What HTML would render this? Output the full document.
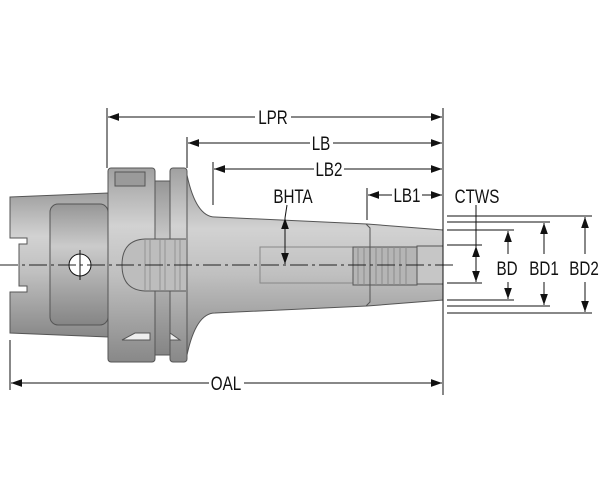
<!DOCTYPE html>
<html><head><style>html,body{margin:0;padding:0;background:#fff}svg{display:block}
text{font-family:"Liberation Sans",sans-serif;font-size:19px;fill:#111;text-anchor:middle}</style></head>
<body>
<svg width="600" height="501" viewBox="0 0 600 501" xmlns="http://www.w3.org/2000/svg">
<defs>
<linearGradient id="g" x1="0" y1="0" x2="0" y2="1">
<stop offset="0" stop-color="#a0a0a0"/><stop offset="0.3" stop-color="#d2d2d2"/><stop offset="0.55" stop-color="#c0c0c0"/><stop offset="1" stop-color="#888"/></linearGradient>
<linearGradient id="g2" x1="0" y1="0" x2="0" y2="1">
<stop offset="0" stop-color="#969696"/><stop offset="0.35" stop-color="#cbcbcb"/><stop offset="1" stop-color="#858585"/></linearGradient>
<marker id="a" viewBox="0 0 10 10" refX="10" refY="5" markerWidth="11" markerHeight="11" orient="auto-start-reverse"><path d="M0,1.5L10,5L0,8.5z" fill="#111"/></marker>
</defs>
<g stroke="#555" stroke-width="1">
<path d="M10,197 L108,193 L108,337 L10,333 L10,292 L27,292 L27,286 L19,286 L19,244 L27,244 L27,238 L10,238 Z" fill="url(#g)"/>
<rect x="50" y="204" width="58" height="121" rx="8" fill="url(#g2)"/>
<path d="M187,175 Q196,217 215,217 L367,224 L443,230 L443,300 L367,306 L215,313 Q196,313 187,355 Z" fill="url(#g)"/>
<rect x="260" y="247" width="93" height="36" fill="none" stroke="#888"/>
<rect x="108" y="168" width="47" height="194" rx="3" fill="url(#g)"/>
<rect x="155" y="181" width="15" height="174" fill="url(#g2)"/>
<rect x="170" y="168" width="17" height="194" rx="3" fill="url(#g)"/>
<rect x="115" y="172" width="30" height="14" fill="#9a9a9a"/>
<path d="M122,340 L135,333 L150,333 L150,340Z" fill="#eee"/>
<path d="M170,333 L180,340 L170,340Z" fill="#eee"/>
<path d="M186,239 L145,239 Q122,240 122,265 Q122,290 145,291 L186,291" fill="#bdbdbd"/>
<g stroke="#999" stroke-width="1.2">
<line x1="145" y1="240" x2="145" y2="290"/><line x1="150" y1="240" x2="150" y2="290"/><line x1="160" y1="240" x2="160" y2="290"/><line x1="165" y1="240" x2="165" y2="290"/><line x1="175" y1="240" x2="175" y2="290"/><line x1="180" y1="240" x2="180" y2="290"/>
</g>
<rect x="353" y="247" width="64" height="38" fill="#b5b5b5"/>
<g stroke="#8a8a8a"><line x1="358" y1="247" x2="358" y2="285"/><line x1="364" y1="247" x2="364" y2="285"/><line x1="376" y1="247" x2="376" y2="285"/><line x1="382" y1="247" x2="382" y2="285"/><line x1="388" y1="247" x2="388" y2="285"/><line x1="394" y1="247" x2="394" y2="285"/><line x1="400" y1="247" x2="400" y2="285"/><line x1="406" y1="247" x2="406" y2="285"/></g>
<rect x="417" y="246" width="26" height="38" fill="#c6c6c6"/>
<path d="M366,224 L370,228 L370,302 L366,306" fill="none"/>
<circle cx="80" cy="265" r="11" fill="#fff" stroke="#111"/>
</g>
<line x1="80" y1="250" x2="80" y2="280" stroke="#111"/>
<line x1="0" y1="265" x2="455" y2="265" stroke="#222" stroke-width="1" stroke-dasharray="18,4,3,4"/>
<g stroke="#111" stroke-width="1" fill="none">
<line x1="107" y1="108" x2="107" y2="168"/>
<line x1="443" y1="108" x2="443" y2="395"/>
<line x1="187" y1="137" x2="187" y2="168"/>
<line x1="213" y1="162" x2="213" y2="205"/>
<line x1="367" y1="188" x2="367" y2="220"/>
<line x1="10" y1="340" x2="10" y2="390"/>
<line x1="447" y1="216" x2="592" y2="216"/>
<line x1="447" y1="222" x2="550" y2="222"/>
<line x1="447" y1="230" x2="514" y2="230"/>
<line x1="447" y1="245" x2="482" y2="245"/>
<line x1="447" y1="283" x2="482" y2="283"/>
<line x1="447" y1="300" x2="514" y2="300"/>
<line x1="447" y1="306" x2="550" y2="306"/>
<line x1="447" y1="313" x2="592" y2="313"/>
<line x1="108" y1="117" x2="255" y2="117" marker-start="url(#a)"/><line x1="291" y1="117" x2="442" y2="117" marker-end="url(#a)"/>
<line x1="188" y1="143" x2="310" y2="143" marker-start="url(#a)"/><line x1="333" y1="143" x2="442" y2="143" marker-end="url(#a)"/>
<line x1="214" y1="169" x2="314" y2="169" marker-start="url(#a)"/><line x1="344" y1="169" x2="442" y2="169" marker-end="url(#a)"/>
<line x1="368" y1="195" x2="392" y2="195" marker-start="url(#a)"/><line x1="422" y1="195" x2="442" y2="195" marker-end="url(#a)"/>
<line x1="11" y1="383" x2="209" y2="383" marker-start="url(#a)"/><line x1="244" y1="383" x2="442" y2="383" marker-end="url(#a)"/>
<line x1="287" y1="205" x2="285" y2="218" /><line x1="285" y1="218" x2="285" y2="264" marker-start="url(#a)" marker-end="url(#a)"/>
<line x1="476" y1="205" x2="476" y2="246" /><line x1="476" y1="246" x2="476" y2="282" marker-start="url(#a)" marker-end="url(#a)"/>
<line x1="508" y1="231" x2="508" y2="254" marker-start="url(#a)"/><line x1="508" y1="282" x2="508" y2="299" marker-end="url(#a)"/>
<line x1="544" y1="223" x2="544" y2="254" marker-start="url(#a)"/><line x1="544" y1="282" x2="544" y2="305" marker-end="url(#a)"/>
<line x1="585" y1="217" x2="585" y2="254" marker-start="url(#a)"/><line x1="585" y1="282" x2="585" y2="312" marker-end="url(#a)"/>
</g>
<text transform="translate(273,124) scale(0.8,1)">LPR</text>
<text transform="translate(321,150) scale(0.8,1)">LB</text>
<text transform="translate(329,176) scale(0.8,1)">LB2</text>
<text transform="translate(407,202) scale(0.8,1)">LB1</text>
<text transform="translate(293,203) scale(0.8,1)">BHTA</text>
<text transform="translate(477,203) scale(0.8,1)">CTWS</text>
<text transform="translate(507,275) scale(0.8,1)">BD</text>
<text transform="translate(544,275) scale(0.8,1)">BD1</text>
<text transform="translate(584,275) scale(0.8,1)">BD2</text>
<text transform="translate(226,390) scale(0.8,1)">OAL</text>
</svg>
</body></html>
